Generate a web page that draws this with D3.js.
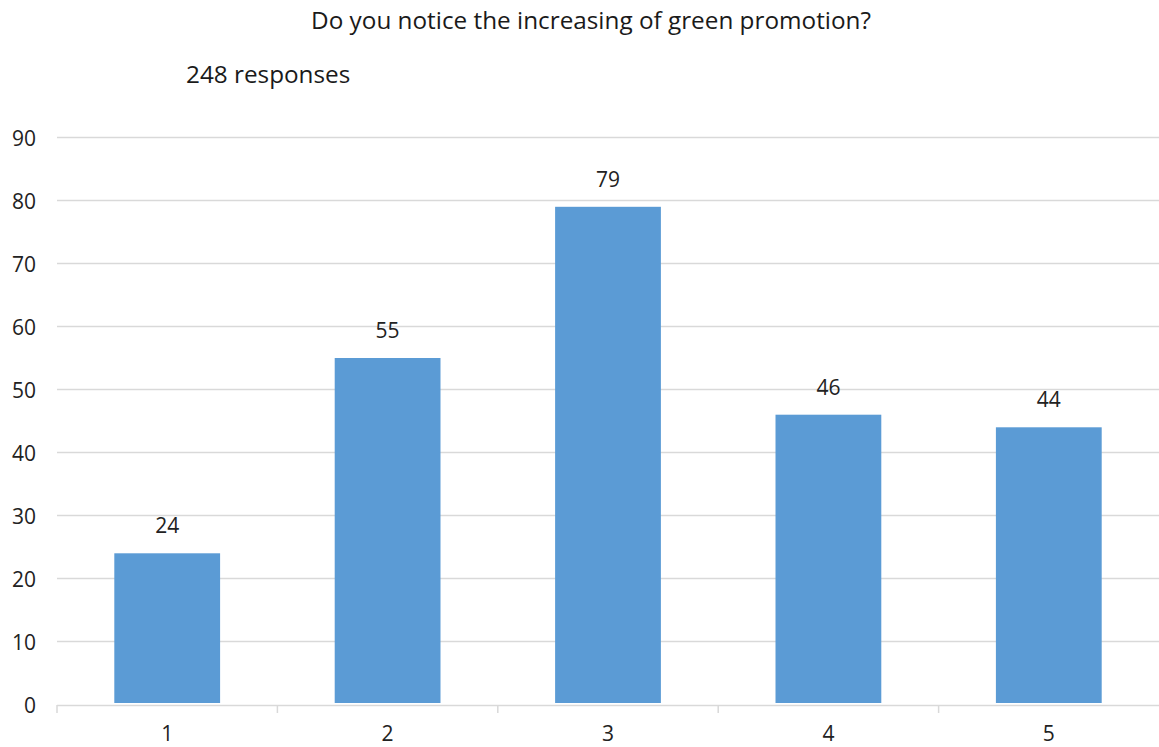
<!DOCTYPE html>
<html><head><meta charset="utf-8">
<script src="https://cdn.jsdelivr.net/npm/d3@7"></script>
<style>body{margin:0;background:#fff}svg{display:block}</style>
</head><body>
<script>
const categories = ["1","2","3","4","5"];
const values = [24,55,79,46,44];
const yTicks = [0,10,20,30,40,50,60,70,80,90];
const title = "Do you notice the increasing of green promotion?";
const subtitle = "248 responses";

const W=1159,H=747;
const font = "'Open Sans', 'Segoe UI', sans-serif";
const svg=d3.select("body").append("svg").attr("width",W).attr("height",H);
const x=d3.scaleBand().domain(categories).range([57,1159]).paddingInner(0.52).paddingOuter(0.26);
const xb=d3.scaleBand().domain(categories).range([57,1159]);
const y=d3.scaleLinear().domain([0,90]).range([704.5,137.5]);

svg.append("g").selectAll("line").data(yTicks.filter(d=>d>0)).join("line")
 .attr("x1",57).attr("x2",1159).attr("y1",d=>y(d)).attr("y2",d=>y(d))
 .attr("stroke","#d9d9d9").attr("stroke-width",1.5);

svg.append("g").selectAll("text").data(yTicks).join("text")
 .attr("x",36).attr("y",d=>y(d)+8).attr("text-anchor","end")
 .attr("font-family",font).attr("font-size",21).attr("fill","#222").text(d=>d);

svg.append("g").selectAll("rect").data(values).join("rect")
 .attr("x",(d,i)=>x(categories[i])).attr("width",x.bandwidth())
 .attr("y",d=>y(d)).attr("height",d=>y(0)-1.5-y(d)).attr("fill","#5b9bd5");

// axis
svg.append("line").attr("x1",57).attr("x2",1159).attr("y1",705.5).attr("y2",705.5).attr("stroke","#d9d9d9").attr("stroke-width",1.5);
svg.append("g").selectAll("line").data(categories).join("line")
 .attr("x1",d=>xb(d)).attr("x2",d=>xb(d)).attr("y1",705).attr("y2",713)
 .attr("stroke","#d9d9d9").attr("stroke-width",1.5);

svg.append("g").selectAll("text").data(categories).join("text")
 .attr("x",d=>xb(d)+xb.bandwidth()/2).attr("y",741).attr("text-anchor","middle")
 .attr("font-family",font).attr("font-size",21).attr("fill","#222").text(d=>d);

svg.append("g").selectAll("text").data(values).join("text")
 .attr("x",(d,i)=>x(categories[i])+x.bandwidth()/2).attr("y",d=>y(d)-20).attr("text-anchor","middle")
 .attr("font-family",font).attr("font-size",21).attr("fill","#222").text(d=>d);

svg.append("text").attr("x",591).attr("y",29).attr("text-anchor","middle")
 .attr("font-family",font).attr("font-size",24.3).attr("fill","#1a1a1a").text(title);
svg.append("text").attr("x",186).attr("y",83)
 .attr("font-family",font).attr("font-size",24.3).attr("fill","#1a1a1a").text(subtitle);
</script>
</body></html>
